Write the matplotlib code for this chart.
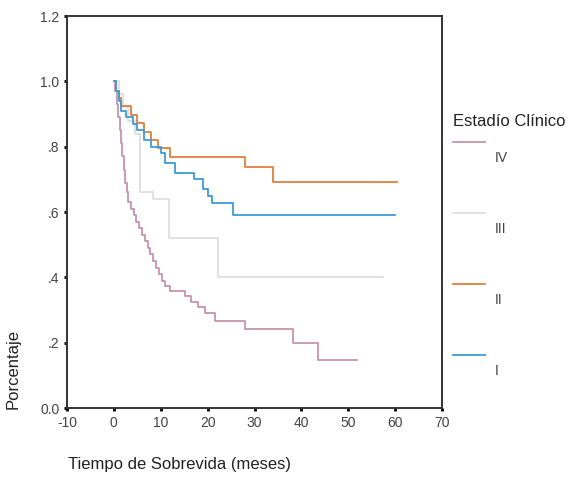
import matplotlib.pyplot as plt
from matplotlib.lines import Line2D

plt.rcParams['font.family'] = ['Liberation Sans', 'DejaVu Sans']
plt.rcParams['axes.unicode_minus'] = False

# Curvas de supervivencia (Kaplan-Meier)
t_I = [0, 0.5, 1.0, 1.5, 2.5, 4.0, 5.0, 6.5, 8.0, 10.0, 11.0, 13.0, 17.0, 19.0, 20.0, 21.0, 25.5, 60.0]
s_I = [1.0, 0.97, 0.94, 0.91, 0.89, 0.87, 0.85, 0.82, 0.80, 0.78, 0.75, 0.72, 0.70, 0.67, 0.65, 0.627, 0.59, 0.59]

t_II = [0, 0.5, 1.0, 1.5, 3.7, 5.0, 6.5, 8.0, 9.5, 12.0, 28.0, 34.0, 60.3]
s_II = [1.0, 0.97, 0.95, 0.923, 0.897, 0.872, 0.846, 0.821, 0.795, 0.769, 0.738, 0.692, 0.692]

t_III = [0, 1.0, 2.0, 3.0, 4.5, 5.6, 8.3, 11.8, 22.3, 57.4]
s_III = [1.0, 0.96, 0.92, 0.88, 0.84, 0.66, 0.64, 0.52, 0.40, 0.40]

t_IV = [0, 0.3, 0.6, 0.9, 1.2, 1.5, 1.8, 2.1, 2.4, 2.7, 3.0, 3.6, 4.2, 4.8, 5.4, 6.0,
        6.6, 7.2, 7.8, 8.4, 9.0, 9.6, 10.2, 10.8, 11.9, 15.1, 16.5, 18.0, 19.5, 21.5,
        27.9, 38.2, 43.5, 51.8]
s_IV = [1.0, 0.97, 0.93, 0.89, 0.85, 0.81, 0.77, 0.73, 0.69, 0.66, 0.63, 0.61, 0.59, 0.57, 0.55, 0.53,
        0.51, 0.49, 0.47, 0.45, 0.43, 0.41, 0.39, 0.375, 0.358, 0.342, 0.325, 0.308, 0.29, 0.265,
        0.242, 0.199, 0.147, 0.147]

estadios = ['IV', 'III', 'II', 'I']
colores = {'IV': '#c793ab', 'III': '#dedede', 'II': '#e07f3c', 'I': '#3d9bd6'}

x_ticks = [-10, 0, 10, 20, 30, 40, 50, 60, 70]
y_ticks = [0.0, 0.2, 0.4, 0.6, 0.8, 1.0, 1.2]
y_ticklabels = ['0.0', '.2', '.4', '.6', '.8', '1.0', '1.2']

fig = plt.figure(figsize=(5.75, 4.8), dpi=100)
ax = fig.add_axes([67 / 575, 72 / 480, 375 / 575, 392 / 480])

series = {'IV': (t_IV, s_IV), 'III': (t_III, s_III), 'II': (t_II, s_II), 'I': (t_I, s_I)}
for e in ['III', 'IV', 'II', 'I']:
    t, s = series[e]
    ax.step(t, s, where='post', color=colores[e], linewidth=1.3)

ax.set_xlim(-10, 70)
ax.set_ylim(0, 1.2)
ax.set_xticks(x_ticks)
ax.set_yticks(y_ticks)
ax.set_yticklabels(y_ticklabels)
ax.tick_params(length=2.5, width=2, color='black', labelsize=10, labelcolor='#444444', pad=3)
for sp in ax.spines.values():
    sp.set_linewidth(1.4)
    sp.set_color('#333333')

ax.set_ylabel('Porcentaje', fontsize=12, color='#222222')
ax.yaxis.set_label_coords(-0.125, 0.1)
fig.text(68 / 575, 1 - 465 / 480, 'Tiempo de Sobrevida (meses)', fontsize=12,
         color='#222222', ha='left', va='center')

# Leyenda
fig.text(453 / 575, 1 - 122 / 480, 'Estadío Clínico', fontsize=12, color='#222222',
         ha='left', va='center')
for i, e in enumerate(estadios):
    y_line = 142 + i * 71
    fig.add_artist(Line2D([453 / 575, 485 / 575], [1 - y_line / 480, 1 - y_line / 480],
                          color=colores[e], linewidth=1.3))
    fig.text(495 / 575, 1 - (y_line + 16) / 480, e, fontsize=10, color='#444444',
             ha='left', va='center')

plt.savefig('out.png', dpi=100)
